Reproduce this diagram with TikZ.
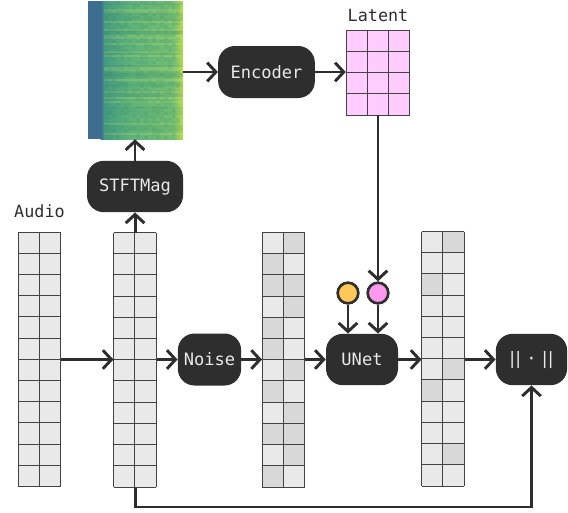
\documentclass[tikz,border=0pt]{standalone}
\usepackage{fontspec}
\setmonofont{DejaVu Sans Mono}
\usetikzlibrary{arrows.meta,calc}
\definecolor{ink}{HTML}{2E2E2E}
\definecolor{cellA}{HTML}{E9E9E9}
\definecolor{cellB}{HTML}{D8D8D8}
\definecolor{latentpink}{HTML}{FFCCFF}
\definecolor{dotorange}{HTML}{FFC857}
\definecolor{dotpink}{HTML}{FF99EE}
\definecolor{specblue}{HTML}{3F6D8F}
\definecolor{specteal}{HTML}{449C80}
\definecolor{specgreen}{HTML}{5CB27A}
\definecolor{specmid}{HTML}{72BE72}
\definecolor{specyellow}{HTML}{B9D850}
\tikzset{
  x=0.75pt,y=-0.75pt,
  blocknode/.style={fill=ink,rounded corners=12.5pt,text=cellA,font=\ttfamily\fontsize{12.8pt}{14pt}\selectfont,inner sep=0pt,anchor=center},
  caption/.style={text=ink,font=\ttfamily\fontsize{12.6pt}{14pt}\selectfont,inner sep=0pt},
  conn/.style={draw=ink,line width=2.2pt,-{Straight Barb[length=6.5pt,width=14pt,line width=2.2pt]}},
  gridbox/.style={minimum width=31.9pt,minimum height=190.9pt,inner sep=0pt,anchor=north west},
  dot/.style={circle,draw=ink,line width=2pt,minimum size=15.5pt,inner sep=0pt},
  cellline/.style={draw=ink!90,line width=0.75pt}
}
% #1 left x, #2 top y, #3 list of dark cells as r-c
\newcommand{\stripgrid}[3]{%
  \fill[cellA] (#1,#2) rectangle ++(42.5,254.5);
  \foreach \r/\c in {#3}{
    \fill[cellB] ($(#1,#2)+(\c*21.25-21.25,\r*21.208-21.208)$) rectangle ++(21.25,21.208);
  }
  \foreach \i in {0,...,12}{
    \draw[cellline] ($(#1,#2)+(0,\i*21.208)$) -- ++(42.5,0);
  }
  \foreach \i in {0,1,2}{
    \draw[cellline] ($(#1,#2)+(\i*21.25,0)$) -- ++(0,254.5);
  }
}
\begin{document}
\begin{tikzpicture}
\useasboundingbox (0,0) rectangle (568,512);
\fill[white] (0,0) rectangle (568,512);

% spectrogram
\fill[specblue] (88,1) rectangle (101,139);
\fill[left color=specblue,right color=specteal] (100.5,1) rectangle (105,139);
\fill[left color=specteal,right color=specgreen] (104.5,1) rectangle (130,139);
\fill[left color=specgreen,right color=specmid] (129.5,1) rectangle (174,139);
\fill[left color=specmid,right color=specyellow] (173.5,1) rectangle (183,139);
\pgfmathsetseed{4127}
\foreach \yy in {1,3,...,137}{
  \pgfmathsetmacro{\rowv}{rnd}
  \ifdim\rowv pt>0.76pt
    \fill[yellow!60!white,opacity=0.16] (104,\yy) rectangle (183,\yy+1.5);
  \else\ifdim\rowv pt<0.18pt
    \fill[specteal!80!black,opacity=0.12] (104,\yy) rectangle (183,\yy+1.5);
  \fi\fi
}
\foreach \yy in {1,4,...,136}{
  \foreach \xx in {104,108,...,176}{
    \pgfmathsetmacro{\v}{rnd}
    \ifdim\v pt<0.4pt
      \fill[specteal!85!black,opacity=0.13] (\xx,\yy) rectangle (\xx+4,\yy+3);
    \fi
  }
}
\foreach \yy in {12,30,50,72,90,110,124}{
  \fill[specteal!80!black,opacity=0.08] (104,\yy) rectangle (183,\yy+5);
}
\node[minimum width=71.25pt,minimum height=103.5pt,inner sep=0pt] (spec) at (135.5,70) {};

% strips
\stripgrid{18}{232}{}
\stripgrid{113.5}{232.5}{}
\stripgrid{262}{232.5}{1/2,2/1,3/1,3/2,4/2,5/1,6/1,7/2,8/1,9/2,10/1,10/2,11/2,12/1}
\stripgrid{421.5}{231.5}{1/2,3/1,7/2,8/1,11/2}
\node[gridbox] (audio) at (18,232) {};
\node[gridbox] (x) at (113.5,232.5) {};
\node[gridbox] (noisy) at (262,232.5) {};
\node[gridbox] (pred) at (421.5,231.5) {};

% latent
\fill[latentpink] (346,30) rectangle (410,115);
\foreach \i in {0,...,4}{\draw[cellline] (346,30+\i*21.25) -- (410,30+\i*21.25);}
\foreach \i in {0,...,3}{\draw[cellline] (346+\i*21.33,30) -- (346+\i*21.33,115);}
\node[minimum width=48pt,minimum height=63.75pt,inner sep=0pt] (latent) at (378,72.5) {};

% captions
\node[caption] (audiolabel) at (39.5,211) {Audio};
\node[caption] (latentlabel) at (378,15) {Latent};

% blocks
\node[blocknode,minimum width=72pt,minimum height=38.5pt] (stft) at (135,186.5) {STFTMag};
\node[blocknode,minimum width=72.5pt,minimum height=39pt] (encoder) at (266.5,72) {Encoder};
\node[blocknode,minimum width=47.5pt,minimum height=39pt] (noise) at (209.5,359.5) {Noise};
\node[blocknode,minimum width=54pt,minimum height=38.5pt] (unet) at (362,359.5) {UNet};
\node[blocknode,minimum width=53.5pt,minimum height=38.5pt] (norm) at (531.5,359.5) {|\kern-3.1pt|\kern2.2pt·\kern2.2pt|\kern-3.1pt|};

% dots
\node[dot,fill=dotorange] (cond) at (348,293) {};
\node[dot,fill=dotpink] (lat) at (378,293) {};

% connectors
\draw[conn] (audio.east |- noise.west) -- (x.west |- noise.west);
\draw[conn] (x.east |- noise.west) -- (noise.west);
\draw[conn] (noise.east) -- (noisy.west |- noise.east);
\draw[conn] (noisy.east |- unet.west) -- (unet.west);
\draw[conn] (unet.east) -- (pred.west |- unet.east);
\draw[conn] (pred.east |- norm.west) -- (norm.west);
\draw[conn] (x.north) -- (stft.south -| x.north);
\draw[conn] (stft.north) -- (spec.south -| stft.north);
\draw[conn] (spec.east |- encoder.west) -- (encoder.west);
\draw[conn] (encoder.east) -- (latent.west |- encoder.east);
\draw[conn] (latent.south) -- (lat.north);
\draw[conn] (cond.south) -- (unet.north -| cond.south);
\draw[conn] (lat.south) -- (unet.north -| lat.south);
\coordinate (bendA) at (x.south |- 0,507);
\coordinate (bendB) at (norm.south |- 0,507);
\draw[conn] (x.south) -- (bendA) -- (bendB) -- (norm.south);
\end{tikzpicture}
\end{document}
